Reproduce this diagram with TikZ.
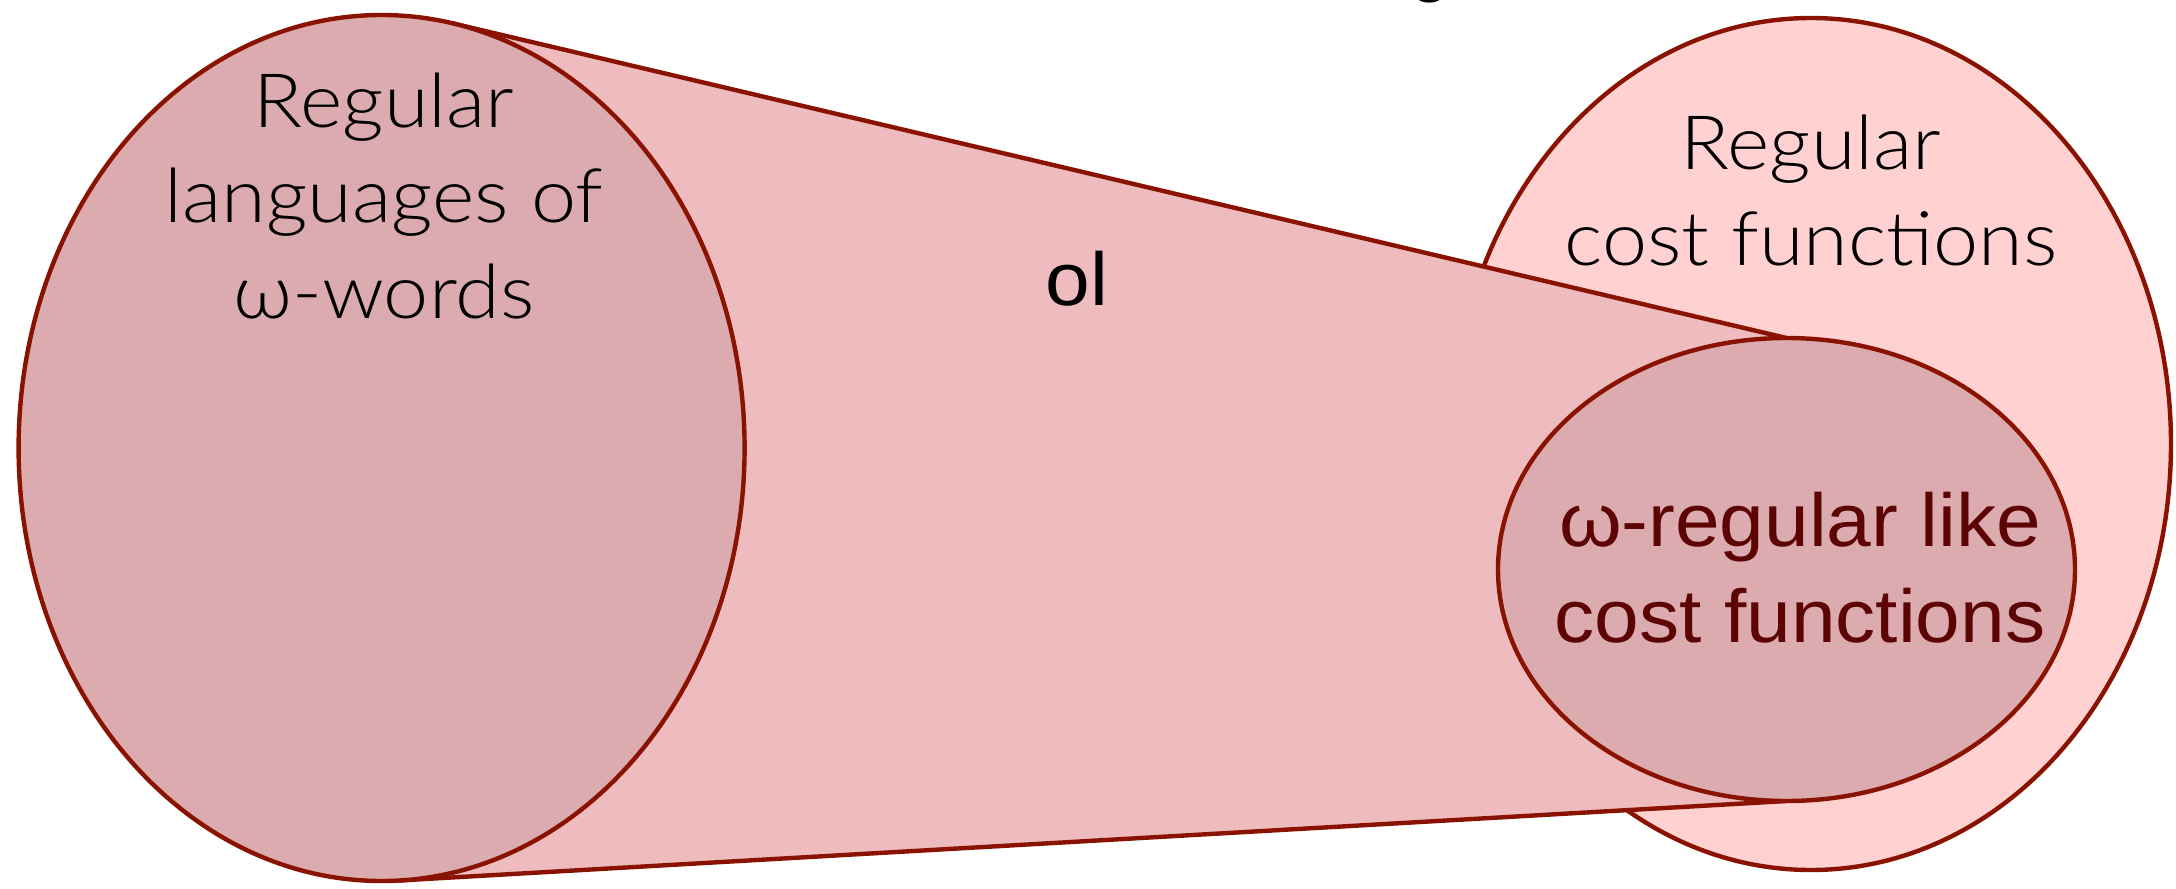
\documentclass[tikz,border=0pt]{standalone}
\usepackage{fontspec}
\usetikzlibrary{shapes.geometric}
\IfFontExistsTF{Lato Light}{\newfontfamily\lightf{Lato Light}[FakeStretch=1.08]}{%
  \IfFontExistsTF{Fira Sans Light}{\newfontfamily\lightf{Fira Sans Light}}{\newfontfamily\lightf{TeX Gyre Heros}}}
\newfontfamily\regf{Liberation Sans}[FakeStretch=1.07]
\newfontfamily\titlef{Liberation Sans}
\IfFontExistsTF{DejaVu Sans ExtraLight}{\newfontfamily\omgf{DejaVu Sans ExtraLight}}{\newfontfamily\omgf{Liberation Sans}}
\newcommand\lomega{\iffontchar\font"03C9\relax ω\else{\omgf ω}\fi}
\definecolor{cfillA}{HTML}{DBABAF}
\definecolor{cfillB}{HTML}{EEBBBF}
\definecolor{cfillC}{HTML}{FFD1D1}
\definecolor{cstroke}{HTML}{8A1200}
\definecolor{ctext}{HTML}{5C0303}
\tikzset{
  blob/.style={ellipse, draw=cstroke, line width=2.2pt, inner sep=0pt, outer sep=0pt},
  edgeline/.style={draw=cstroke, line width=2.2pt},
  lightlabel/.style={font=\lightf\fontsize{37.5}{47.75}\selectfont, align=center, anchor=base, inner sep=0pt},
  reglabel/.style={font=\regf\fontsize{37.5}{47.75}\selectfont, align=center, anchor=base, inner sep=0pt}
}
\begin{document}
\begin{tikzpicture}[x=0.5pt,y=-0.5pt]
\useasboundingbox (0,0) rectangle (2176,889);
% partial title glyph cut by the top edge
\node[font=\titlef\fontsize{37.5}{45}\selectfont, anchor=south, inner sep=0pt] (title) at (1430,3) {g};
% big right ellipse
\node[blob, fill=cfillC, minimum width=360pt, minimum height=426pt] (cost) at (1811,444) {};
% small ellipse (defined first for anchors, drawn later)
\path (1786.5,569.5) node[ellipse, inner sep=0pt, outer sep=0pt, minimum width=288.5pt, minimum height=231.5pt] (inner) {};
\coordinate (lt) at (452,23.2);
\coordinate (lb) at (399.1,880.5);
% projection band
\fill[cfillB] (lt) -- (inner.north) -- (inner.south) -- (lb) -- cycle;
\draw[edgeline] (lt) -- (inner.north);
\draw[edgeline] (lb) -- (inner.south);
% left ellipse
\node[blob, fill=cfillA, minimum width=363pt, minimum height=433pt] (omega) at (381.6,448) {};
% small ellipse drawn
\node[blob, fill=cfillA, minimum width=288.5pt, minimum height=231.5pt] (innerdraw) at (inner.center) {};
% labels (base anchor = baseline of the last line)
\node[lightlabel] (omegatext) at (384,318) {Regular\\languages of\\\lomega-words};
\node[lightlabel] (costtext) at (1811,265) {Regular\\cost functions};
\node[reglabel, text=ctext] (innertext) at (1800,642) {ω-regular like\\cost functions};
\node[reglabel] (ol) at (1077,305) {ol};
\end{tikzpicture}
\end{document}
